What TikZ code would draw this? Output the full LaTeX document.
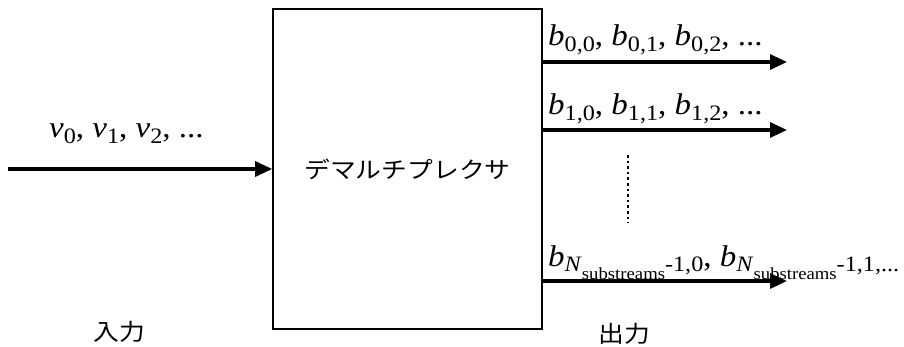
\documentclass[tikz,border=0pt]{standalone}
\usepackage{fontspec}
\usepackage{graphicx}
\setmainfont{Liberation Serif}
\newfontfamily\jpfont{Noto Sans CJK JP}
\usetikzlibrary{arrows.meta}
\newcommand{\lbsub}[1]{\raisebox{-0.2em}{\fontsize{22}{22}\selectfont #1}}
\newcommand{\lbsubsub}[1]{\raisebox{-0.35em}{\fontsize{17}{17}\selectfont #1}}
\newcommand{\lbl}[1]{\scalebox{1.1}[1]{\fontsize{30}{30}\selectfont #1}}
\newcommand{\jpl}[1]{\scalebox{1.12}[1]{\jpfont\fontsize{23}{23}\selectfont #1}}
\tikzset{
  box/.style={draw, line width=1.6pt, minimum width=269pt, minimum height=320pt, inner sep=0pt},
  arr/.style={line width=3.2pt, -{Triangle[length=17pt,width=15pt]}},
  lab/.style={anchor=base west, inner sep=0pt},
  dotline/.style={line width=2.6pt, dash pattern=on 2.6pt off 3pt}
}
\begin{document}
\begin{tikzpicture}[x=1pt,y=-1pt]
\useasboundingbox (0,0) rectangle (904,347);
\node[box] (demux) at (407.5,169) {\jpl{デマルチプレクサ}};
\coordinate (in) at (8,169);
\draw[arr] (in) -- (demux.west);
\coordinate (o0) at (787,62);
\coordinate (o1) at (787,130);
\coordinate (oN) at (787,281);
\draw[arr] (demux.east |- o0) -- (o0);
\draw[arr] (demux.east |- o1) -- (o1);
\draw[arr] (demux.east |- oN) -- (oN);
\coordinate (d1) at (628,155);
\coordinate (d2) at (628,223);
\draw[dotline] (d1) -- (d2);
\node[lab] (vlab) at (49,138) {\lbl{\textit{v}\lbsub{0}, \textit{v}\lbsub{1}, \textit{v}\lbsub{2}, ...}};
\node[lab] (b0lab) at (548,46) {\lbl{\textit{b}\lbsub{0,0}, \textit{b}\lbsub{0,1}, \textit{b}\lbsub{0,2}, ...}};
\node[lab] (b1lab) at (548,115) {\lbl{\textit{b}\lbsub{1,0}, \textit{b}\lbsub{1,1}, \textit{b}\lbsub{1,2}, ...}};
\node[lab] (bNlab) at (548,266) {\lbl{\textit{b}\lbsub{\textit{N}\lbsubsub{substreams}-1,0}, \textit{b}\lbsub{\textit{N}\lbsubsub{substreams}-1,1,...}}};
\node (inlab) at (119,332) {\jpl{入力}};
\node (outlab) at (624,334) {\jpl{出力}};
\end{tikzpicture}
\end{document}
